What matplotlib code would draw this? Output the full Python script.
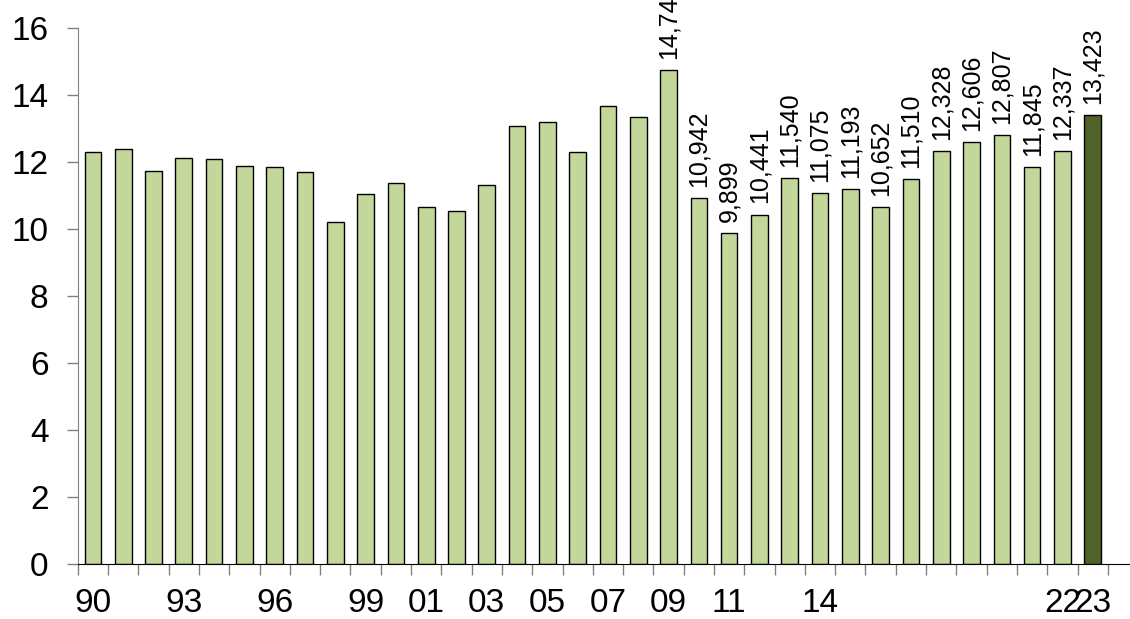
import matplotlib
matplotlib.use('Agg')
import matplotlib.pyplot as plt
import numpy as np

# Years 1990-2023, values
years = list(range(1990, 2024))
values = [12.32, 12.40, 11.75, 12.14, 12.09, 11.90, 11.87, 11.72, 10.22, 11.06,
          11.37, 10.67, 10.55, 11.32, 13.09, 13.21, 12.30, 13.67, 13.36, 14.745,
          10.942, 9.899, 10.441, 11.540, 11.075, 11.193, 10.652, 11.510, 12.328,
          12.606, 12.807, 11.845, 12.337, 13.423]

# Only some years get a label on the x axis
tick_years = [1990, 1993, 1996, 1999, 2001, 2003, 2005, 2007, 2009, 2011, 2014, 2022, 2023]

# Bars from this year onward carry a value label
first_labeled_year = 2009

LIGHT_GREEN = '#C4D79B'
DARK_GREEN = '#4F6228'


def format_value(v):
    """
    Formats a value like 13.423 as '13,423'.
    """
    return '{:.3f}'.format(v).replace('.', ',')


def plot_bars(years, values, out_file='out.png'):
    """
    Draws the bar chart and saves it.
    """
    plt.rcParams['font.family'] = ['Liberation Sans', 'DejaVu Sans']

    fig = plt.figure(figsize=(11.3, 6.19), dpi=100)
    ax = fig.add_axes([0.0688, 0.0884, 0.9312, 0.8659])

    x = np.arange(len(years))
    colors = [DARK_GREEN if y == years[-1] else LIGHT_GREEN for y in years]
    ax.bar(x, values, width=0.55, color=colors, edgecolor='black', linewidth=1.0, zorder=2)

    # Value labels, rotated
    for xi, year, v in zip(x, years, values):
        if year >= first_labeled_year:
            ax.annotate(format_value(v), (xi, v), xytext=(0, 8), textcoords='offset points',
                        rotation=90, ha='center', va='bottom', fontsize=18,
                        annotation_clip=False)

    ax.set_xlim(-0.5, 34.23)
    ax.set_ylim(0, 16)
    ax.set_yticks(np.arange(0, 17, 2))

    # Tick marks sit between the bars, labels under the bar centres
    ax.set_xticks(np.arange(-0.5, len(years), 1.0))
    ax.set_xticklabels([])
    label_pos = [years.index(y) for y in tick_years]
    ax.set_xticks(label_pos, minor=True)
    ax.set_xticklabels(['{:02d}'.format(y % 100) for y in tick_years], minor=True)

    ax.tick_params(axis='x', which='major', direction='out', length=8, width=1, color='#808080')
    ax.tick_params(axis='x', which='minor', length=0, pad=17, labelsize=24)
    ax.tick_params(axis='y', direction='out', length=8, width=1, color='#808080',
                   pad=13, labelsize=24)

    ax.spines['top'].set_visible(False)
    ax.spines['right'].set_visible(False)
    ax.spines['left'].set_color('#808080')
    ax.spines['bottom'].set_color('black')

    fig.savefig(out_file, dpi=100)


def main():
    plot_bars(years, values)


if __name__ == "__main__":
    main()
